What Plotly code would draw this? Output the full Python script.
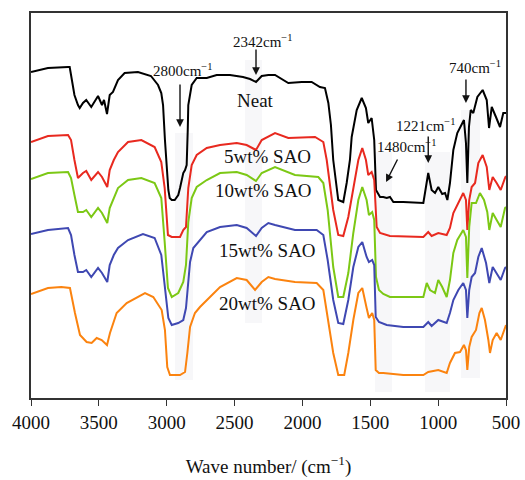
import plotly.graph_objects as go

# ---------------- data ----------------
neat_wn = [4000, 3875, 3727, 3715, 3705, 3680, 3654, 3641, 3617, 3593, 3556, 3506, 3477, 3462, 3440, 3420, 3396, 3359, 3310, 3212, 3116, 3064, 3040, 3027, 3013, 3000, 2988, 2978, 2963, 2941, 2915, 2902, 2878, 2865, 2853, 2845, 2841, 2816, 2779, 2705, 2632, 2534, 2438, 2386, 2342, 2300, 2251, 2202, 2104, 2005, 1932, 1871, 1834, 1809, 1790, 1773, 1750, 1736, 1699, 1674, 1650, 1637, 1600, 1563, 1532, 1515, 1490, 1471, 1458, 1428, 1404, 1379, 1355, 1330, 1257, 1109, 1097, 1073, 1048, 1023, 999, 970, 949, 932, 913, 888, 859, 834, 810, 795, 785, 773, 760, 741, 711, 672, 642, 625, 605, 574, 544, 520, 500]
neat_t = [326, 330, 331, 331, 323, 303, 293, 290, 295, 298, 291, 302, 293, 298, 284, 303, 306, 318, 325, 326, 322, 313, 305, 293, 258, 226, 208, 200, 198, 198, 203, 210, 225, 228, 233, 268, 293, 313, 320, 320, 323, 323, 321, 319, 316, 322, 323, 323, 315, 316, 316, 311, 310, 295, 273, 238, 210, 198, 196, 215, 238, 261, 288, 300, 290, 275, 280, 258, 208, 201, 201, 200, 201, 196, 196, 195, 205, 225, 208, 205, 211, 204, 205, 198, 215, 248, 265, 271, 278, 255, 215, 271, 288, 285, 301, 308, 298, 270, 291, 281, 271, 285, 285]

sao5_wn = [4000, 3875, 3727, 3705, 3680, 3654, 3617, 3593, 3556, 3506, 3477, 3438, 3420, 3390, 3359, 3285, 3187, 3089, 3040, 3015, 2991, 2963, 2902, 2878, 2858, 2841, 2816, 2779, 2705, 2607, 2484, 2411, 2342, 2300, 2202, 2104, 1907, 1846, 1821, 1773, 1736, 1699, 1662, 1625, 1588, 1559, 1532, 1515, 1490, 1471, 1453, 1428, 1355, 1109, 1073, 1048, 999, 937, 913, 888, 851, 815, 795, 785, 771, 753, 728, 704, 672, 642, 623, 598, 569, 539, 507, 500]
sao5_t = [256, 262, 263, 258, 238, 220, 225, 227, 218, 226, 221, 211, 228, 238, 246, 256, 258, 251, 236, 210, 163, 161, 161, 168, 171, 210, 233, 243, 250, 253, 255, 253, 248, 258, 265, 260, 261, 256, 238, 188, 163, 162, 181, 211, 238, 250, 238, 223, 226, 218, 171, 165, 162, 161, 166, 162, 165, 163, 170, 185, 195, 205, 198, 168, 198, 211, 215, 235, 243, 231, 208, 221, 215, 208, 220, 222]

sao10_wn = [4000, 3875, 3727, 3705, 3680, 3654, 3617, 3593, 3556, 3506, 3477, 3438, 3420, 3390, 3359, 3285, 3187, 3089, 3040, 3015, 2991, 2963, 2915, 2878, 2858, 2841, 2816, 2779, 2705, 2607, 2484, 2411, 2342, 2300, 2202, 2055, 1883, 1846, 1814, 1773, 1736, 1699, 1662, 1625, 1588, 1559, 1527, 1510, 1486, 1471, 1458, 1436, 1404, 1355, 1109, 1084, 1060, 1023, 999, 970, 937, 913, 888, 859, 815, 795, 785, 771, 753, 721, 692, 662, 638, 623, 598, 569, 539, 507, 500]
sao10_t = [219, 225, 226, 220, 203, 186, 186, 188, 181, 190, 185, 175, 190, 200, 210, 218, 220, 215, 200, 156, 110, 101, 105, 116, 133, 176, 200, 211, 218, 225, 226, 223, 217, 225, 231, 223, 221, 215, 188, 131, 101, 101, 125, 165, 198, 211, 198, 183, 186, 178, 121, 108, 104, 101, 101, 115, 108, 105, 118, 111, 101, 118, 145, 158, 168, 161, 120, 171, 195, 195, 205, 198, 186, 168, 185, 178, 171, 190, 191]

sao15_wn = [4000, 3875, 3727, 3705, 3680, 3654, 3617, 3593, 3556, 3506, 3477, 3438, 3420, 3390, 3359, 3285, 3175, 3089, 3040, 3015, 2988, 2963, 2915, 2878, 2858, 2845, 2828, 2804, 2767, 2705, 2607, 2484, 2411, 2342, 2300, 2251, 2202, 2055, 1895, 1846, 1814, 1773, 1736, 1699, 1662, 1625, 1588, 1559, 1527, 1510, 1486, 1471, 1460, 1436, 1379, 1257, 1109, 1073, 1048, 999, 937, 913, 888, 851, 815, 795, 785, 771, 753, 728, 704, 679, 647, 623, 598, 569, 539, 507, 500]
sao15_t = [164, 168, 170, 163, 143, 126, 126, 128, 121, 130, 125, 116, 133, 143, 150, 158, 164, 160, 143, 110, 80, 73, 75, 78, 90, 110, 136, 150, 156, 166, 171, 173, 170, 162, 170, 175, 173, 168, 168, 163, 138, 98, 75, 74, 98, 131, 151, 156, 141, 136, 138, 133, 81, 76, 73, 71, 71, 76, 72, 78, 75, 85, 98, 108, 115, 108, 80, 108, 121, 125, 141, 150, 135, 115, 131, 125, 118, 130, 131]

sao20_wn = [4000, 3875, 3777, 3713, 3676, 3639, 3590, 3553, 3516, 3479, 3440, 3418, 3369, 3295, 3160, 3099, 3037, 3013, 2996, 2976, 2902, 2865, 2848, 2828, 2792, 2755, 2681, 2607, 2484, 2411, 2349, 2300, 2251, 2202, 2055, 1895, 1846, 1814, 1773, 1736, 1692, 1662, 1625, 1588, 1559, 1527, 1510, 1486, 1471, 1460, 1436, 1404, 1257, 1109, 1073, 999, 937, 913, 876, 839, 810, 795, 785, 771, 753, 721, 696, 679, 655, 630, 618, 598, 569, 539, 507, 500]
sao20_t = [104, 110, 111, 110, 85, 63, 56, 55, 60, 58, 53, 65, 85, 95, 105, 101, 88, 68, 31, 23, 23, 26, 45, 71, 85, 91, 101, 111, 120, 118, 108, 116, 121, 119, 116, 115, 108, 81, 45, 23, 23, 45, 78, 105, 110, 90, 80, 85, 78, 28, 25, 25, 23, 23, 26, 28, 25, 35, 45, 46, 53, 48, 28, 51, 61, 68, 85, 90, 78, 58, 45, 58, 65, 58, 71, 73]

series_names = ["Neat", "5wt% SAO", "10wt% SAO", "15wt% SAO", "20wt% SAO"]
series_colors = ["#000000", "#e8291f", "#7cc815", "#3f48b2", "#fb830f"]

x_ticks = [4000, 3500, 3000, 2500, 2000, 1500, 1000, 500]

# highlighted bands (wavenumber from, to) and their vertical extent
band_wn = [(2939, 2807), (2423, 2298), (1465, 1340), (1097, 913), (832, 692)]
band_t = [(18, 265), (75, 338), (6, 246), (6, 246), (20, 288)]

FONT = "Liberation Serif"

fig = go.Figure()

for (x0, x1), (y0, y1) in zip(band_wn, band_t):
    fig.add_shape(type="rect", xref="x", yref="y", x0=x0, x1=x1, y0=y0, y1=y1,
                  fillcolor="#f7f7f9", line=dict(width=0), layer="below")

all_wn = [neat_wn, sao5_wn, sao10_wn, sao15_wn, sao20_wn]
all_t = [neat_t, sao5_t, sao10_t, sao15_t, sao20_t]
for wn, t, name, col in zip(all_wn, all_t, series_names, series_colors):
    fig.add_trace(go.Scatter(x=wn, y=t, mode="lines", name=name,
                             line=dict(color=col, width=2), showlegend=False))

# sample labels
label_pos = [(2349, 298), (2261, 242), (2290, 208), (2261, 148), (2261, 95)]
for (lx, ly), name in zip(label_pos, series_names):
    fig.add_annotation(x=lx, y=ly, text=name, showarrow=False,
                       font=dict(family=FONT, size=19, color="#111"))

# peak annotations: text position and arrow (tail -> head)
peak_text = ["2800cm<sup>−1</sup>", "2342cm<sup>−1</sup>", "740cm<sup>−1</sup>",
             "1221cm<sup>−1</sup>", "1480cm<sup>−1</sup>"]
peak_text_pos = [(2880, 328), (2290, 357), (728, 331), (1090, 273), (1230, 252)]
peak_arrow = [((2902, 315), (2902, 271)), ((2342, 350), (2342, 323)),
              ((795, 320), (795, 295)), ((1073, 263), (1073, 235)),
              ((1294, 240), (1384, 216))]
for txt, (tx, ty), ((ax, ay), (hx, hy)) in zip(peak_text, peak_text_pos, peak_arrow):
    fig.add_annotation(x=tx, y=ty, text=txt, showarrow=False,
                       font=dict(family=FONT, size=15, color="#111"))
    fig.add_annotation(x=hx, y=hy, ax=ax, ay=ay, axref="x", ayref="y", text="",
                       showarrow=True, arrowhead=2, arrowsize=1.1, arrowwidth=1.4,
                       arrowcolor="#111")

fig.update_layout(
    width=525, height=480,
    margin=dict(l=31, r=19, t=13, b=82, autoexpand=False),
    paper_bgcolor="white", plot_bgcolor="white",
    font=dict(family=FONT, size=19, color="#111"),
    xaxis=dict(range=[4000, 500], tickvals=x_ticks, ticktext=[str(v) for v in x_ticks],
               ticks="outside", ticklen=6, tickwidth=1.3, tickcolor="#333",
               showline=True, linecolor="#333", linewidth=1.5, mirror=True,
               showgrid=False, zeroline=False, automargin=False,
               tickfont=dict(family=FONT, size=19, color="#111"),
               title=dict(text="Wave number/ (cm<sup>−1</sup>)", standoff=28,
                          font=dict(family=FONT, size=19, color="#111"))),
    yaxis=dict(range=[0, 385], showticklabels=False, ticks="",
               showline=True, linecolor="#333", linewidth=1.5, mirror=True,
               showgrid=False, zeroline=False, automargin=False),
)

fig.write_html("out.html", config={"displayModeBar": False},
               post_script="document.body.style.margin='0';")
